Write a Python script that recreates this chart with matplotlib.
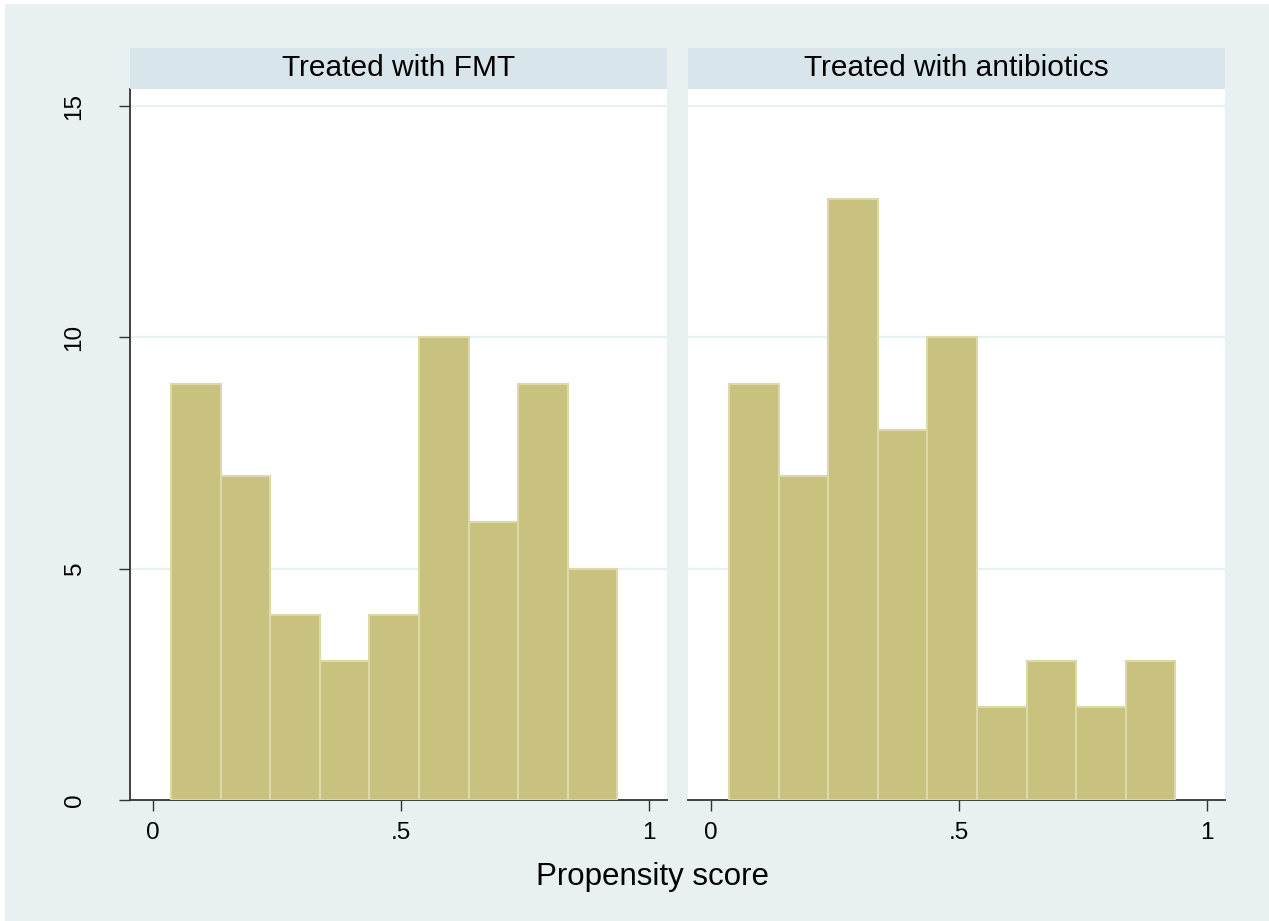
import matplotlib.pyplot as plt
import matplotlib.patches as mpatches

# histogram counts per bin
bin_start = 0.037
bin_width = 0.1
fmt_counts = [9, 7, 4, 3, 4, 10, 6, 9, 5]
abx_counts = [9, 7, 13, 8, 10, 2, 3, 2, 3]
panel_titles = ['Treated with FMT', 'Treated with antibiotics']
x_ticks = [0, 0.5, 1]
x_ticklabels = ['0', '.5', '1']
y_ticks = [0, 5, 10, 15]

BG = '#E8F0F2'
STRIP = '#D8E5EA'
BAR = '#C9C27F'
BAR_EDGE = '#DDD9A6'


def main():
    plt.rcParams['font.family'] = ['Liberation Sans', 'DejaVu Sans']
    fig = plt.figure(figsize=(12.69, 9.21), dpi=100)
    fig.patch.set_facecolor('white')
    fig.patches.append(mpatches.Rectangle((5 / 1269, 0), 1, 1 - 4 / 921,
                                          transform=fig.transFigure,
                                          facecolor=BG, edgecolor='none',
                                          zorder=-10))

    W, H = 1269, 921
    lefts = [130, 688]
    width = 537
    bottom, top = 800, 89
    for i, (counts, title) in enumerate(zip([fmt_counts, abx_counts], panel_titles)):
        ax = fig.add_axes([lefts[i] / W, 1 - bottom / H, width / W, (bottom - top) / H])
        ax.set_facecolor('white')
        edges = [bin_start + k * bin_width for k in range(len(counts))]
        ax.bar(edges, counts, width=bin_width, align='edge', color=BAR,
               edgecolor=BAR_EDGE, linewidth=1.5, zorder=3)
        ax.set_xlim(-0.046, 1.037)
        ax.set_ylim(0, 15.37)
        for yv in y_ticks[1:]:
            ax.axhline(yv, color=BG, linewidth=1.6, zorder=1)
        ax.set_xticks(x_ticks)
        ax.set_xticklabels(x_ticklabels)
        ax.tick_params(axis='x', length=8, width=1, color='#333333',
                       labelsize=17.5, pad=8)
        for s in ['top', 'right']:
            ax.spines[s].set_visible(False)
        ax.spines['bottom'].set_color('#333333')
        ax.spines['bottom'].set_linewidth(1.3)
        if i == 0:
            ax.set_yticks(y_ticks)
            ax.set_yticklabels([str(v) for v in y_ticks], rotation=90, va='center')
            ax.tick_params(axis='y', length=8, width=1, color='#333333',
                           labelsize=17.5, pad=24)
            ax.spines['left'].set_color('#333333')
            ax.spines['left'].set_linewidth(1.3)
        else:
            ax.set_yticks([])
            ax.spines['left'].set_visible(False)
        # strip title above the panel
        fig.patches.append(mpatches.Rectangle((lefts[i] / W, 1 - 89 / H), width / W, 41 / H,
                                              transform=fig.transFigure,
                                              facecolor=STRIP, edgecolor='none'))
        fig.text((lefts[i] + width / 2) / W, 1 - 68.5 / H, title, ha='center',
                 va='center', fontsize=21.5, color='black')

    fig.text(653 / W, 1 - 885 / H, 'Propensity score', ha='center',
             va='baseline', fontsize=22.5, color='black')
    fig.savefig('out.png', dpi=100)


if __name__ == '__main__':
    main()
